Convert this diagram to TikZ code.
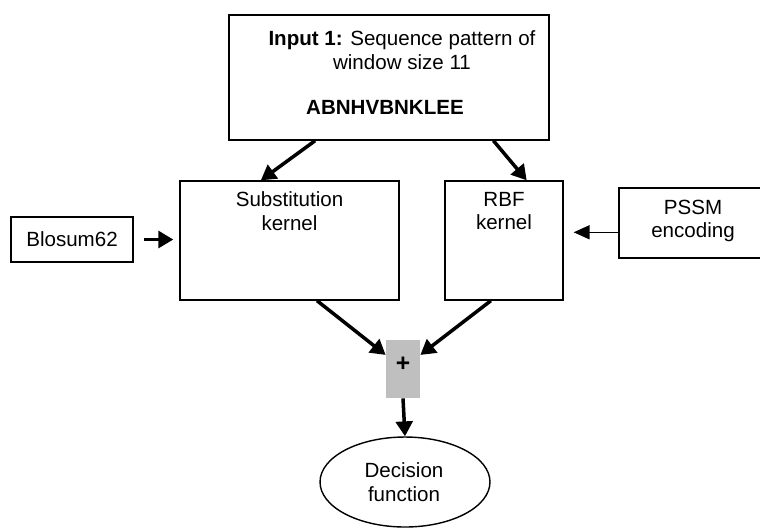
\documentclass[tikz,border=0pt]{standalone}
\usepackage{fontspec}
\setmainfont{Liberation Sans}
\usetikzlibrary{positioning,calc,shapes.geometric,arrows.meta}

\begin{document}
\begin{tikzpicture}[x=0.02cm, y=-0.02cm,
    font=\fontsize{11.7}{13.5}\selectfont,
    box/.style={draw, line width=0.8pt, inner sep=0pt},
    bigarrow/.style={-{Triangle[length=8.5pt,width=9.5pt]}, line width=2pt},
    smallarrow/.style={-{Triangle[length=9pt,width=8pt]}, line width=0.7pt}]
      \useasboundingbox (0,0) rectangle (760,529);

      % Define the input box at the top
      \node (top) [box, minimum width=6.4cm, minimum height=2.5cm] at (389,77.5) {};
      \node (intro) [align=center] at (402,50) {\textbf{Input 1:} Sequence pattern of\\window size 11};
      \node (seq) at (385,107) {\textbf{ABNHVBNKLEE}};

      % Define the two kernels
      \node (sub) [box, minimum width=4.38cm, minimum height=2.38cm] at (289.5,240.5) {};
      \node (sublbl) [align=center] at (289.5,211) {Substitution\\kernel};
      \node (rbf) [box, minimum width=2.36cm, minimum height=2.38cm] at (504,240.5) {};
      \node (rbflbl) [align=center] at (504,211) {RBF\\kernel};

      % Define the nodes outside the kernels
      \node (blosum) [box, minimum width=2.44cm, minimum height=0.9cm] at (72,239.5) {Blosum62};
      \node (pssm) [box, minimum width=2.94cm, minimum height=1.4cm] at (692.5,223) {};
      \node (pssmlbl) [align=center] at (693,221) {PSSM\\encoding};

      % Define the sum and the decision function
      \node (plus) [fill=black!25, minimum width=0.68cm, minimum height=1.16cm, inner sep=0pt] at (403,369) {};
      \node (pluslbl) at (403,364) {\fontsize{14}{16}\selectfont\textbf{+}};
      \node (dec) [draw, ellipse, line width=0.8pt, minimum width=3.4cm, minimum height=1.8cm, inner sep=0pt] at (405,482) {};
      \node (declbl) [align=center] at (404,482) {Decision\\function};

      % Draw the arrows from the input to the kernels
      \draw[bigarrow] ($(top.south west)!0.27!(top.south east)$) -- ($(sub.north west)!0.37!(sub.north east)$);
      \draw[bigarrow] ($(top.south west)!0.825!(top.south east)$) -- ($(rbf.north west)!0.69!(rbf.north east)$);

      \draw[bigarrow, shorten <=5.7pt, shorten >=3.4pt] (blosum.east) -- (blosum.east -| sub.west);
      \coordinate (pssmin) at ($(pssm.north west)!0.63!(pssm.south west)$);
      \draw[smallarrow, shorten >=5.7pt] (pssmin) -- (pssmin -| rbf.east);

      % Draw the arrows into the sum and out of it
      \draw[bigarrow] ($(sub.south west)!0.625!(sub.south east)$) -- ($(plus.north west)!0.26!(plus.south west)$);
      \draw[bigarrow] ($(rbf.south west)!0.39!(rbf.south east)$) -- ($(plus.north east)!0.26!(plus.south east)$);
      \draw[bigarrow] (plus.south) -- (dec.north);
\end{tikzpicture}
\end{document}
